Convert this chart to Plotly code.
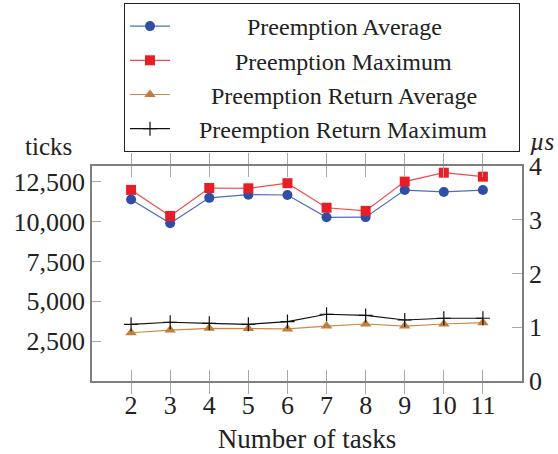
import plotly.graph_objects as go

tasks = [2, 3, 4, 5, 6, 7, 8, 9, 10, 11]
preempt_avg = [11400, 9900, 11500, 11700, 11680, 10280, 10290, 11990, 11870, 11990]
preempt_max = [12000, 10360, 12120, 12100, 12420, 10880, 10680, 12520, 13080, 12830]
ret_avg = [3030, 3200, 3310, 3290, 3270, 3450, 3580, 3450, 3580, 3660]
ret_max = [3560, 3690, 3620, 3560, 3730, 4190, 4120, 3830, 3940, 3940]

series_names = ["Preemption Average", "Preemption Maximum",
                "Preemption Return Average", "Preemption Return Maximum"]

y_ticks = [2500, 5000, 7500, 10000, 12500]
y_ticklabels = ["2,500", "5,000", "7,500", "10,000", "12,500"]
y2_ticks = [0, 1, 2, 3, 4]

FONT = "Liberation Serif"
AX = "#7f7f7f"
TK = "#a8a8a8"

# centre legend labels (as in the pgfplots original) with non-breaking spaces
lead = [12, 10, 6, 4]
trail = [12, 10, 6, 4]
labels = ["\u00a0" * a + n + "\u00a0" * b for a, n, b in zip(lead, series_names, trail)]

fig = go.Figure()
fig.add_trace(go.Scatter(x=tasks, y=preempt_avg, name=labels[0], mode="lines+markers",
                         line=dict(color="#4d6cc0", width=1.2),
                         marker=dict(symbol="circle", size=10, color="#2f4ea6")))
fig.add_trace(go.Scatter(x=tasks, y=preempt_max, name=labels[1], mode="lines+markers",
                         line=dict(color="#f04a50", width=1.2),
                         marker=dict(symbol="square", size=10, color="#e81e26")))
fig.add_trace(go.Scatter(x=tasks, y=ret_avg, name=labels[2], mode="lines+markers",
                         line=dict(color="#c98a48", width=1.2),
                         marker=dict(symbol="triangle-up", size=10, color="#c07f3a")))
fig.add_trace(go.Scatter(x=tasks, y=ret_max, name=labels[3], mode="lines+markers",
                         line=dict(color="#111111", width=1.2),
                         marker=dict(symbol="cross-thin", size=10, color="#111111",
                                     line=dict(color="#111111", width=1.2))))
fig.add_trace(go.Scatter(x=[tasks[0]], y=[0], yaxis="y2", mode="markers",
                         marker=dict(opacity=0), showlegend=False, hoverinfo="skip"))

W, H = 558, 454
L, R, T, B = 92, 36, 166, 73
pw, ph = W - L - R, H - T - B

def px(x):
    return (x - L) / pw

def py(y):
    return (H - B - y) / ph

fig.update_layout(
    width=W, height=H,
    margin=dict(l=L, r=R, t=T, b=B, autoexpand=False),
    plot_bgcolor="white", paper_bgcolor="white",
    font=dict(family=FONT, size=26, color="#222222"),
    xaxis=dict(range=[1, 12], tickvals=tasks, ticks="inside", ticklen=11, tickcolor=TK,
               showline=True, linecolor=AX, linewidth=1.5, mirror="allticks",
               showgrid=False, zeroline=False, automargin=False,
               title=dict(text="Number of tasks", standoff=14, font=dict(family=FONT, size=27)),
               tickfont=dict(family=FONT, size=26)),
    yaxis=dict(range=[0, 13500], tickvals=y_ticks, ticktext=y_ticklabels, ticks="inside",
               ticklen=9, tickcolor=TK, showline=True, linecolor=AX, linewidth=1.5,
               showgrid=False, zeroline=False, automargin=False,
               tickfont=dict(family=FONT, size=26)),
    yaxis2=dict(range=[0, 4], tickvals=y2_ticks, overlaying="y", side="right", ticks="inside",
                ticklen=10, tickcolor=TK, showline=True, linecolor=AX, linewidth=1.5,
                showgrid=False, zeroline=False, automargin=False,
                tickfont=dict(family=FONT, size=26)),
    legend=dict(x=px(124), y=py(3), xanchor="left", yanchor="top",
                bordercolor="#222222", borderwidth=1, bgcolor="white",
                font=dict(family=FONT, size=24), tracegroupgap=0, itemwidth=40),
    annotations=[
        dict(text="ticks", x=px(48), y=py(146), xref="paper", yref="paper", showarrow=False,
             xanchor="center", yanchor="middle", font=dict(size=25, family=FONT)),
        dict(text="<i>µs</i>", x=px(542), y=py(142), xref="paper", yref="paper", showarrow=False,
             xanchor="center", yanchor="middle", font=dict(size=25, family=FONT)),
    ],
)
fig.write_html("out.html", config={"displayModeBar": False},
               post_script="document.body.style.margin='0px';")
